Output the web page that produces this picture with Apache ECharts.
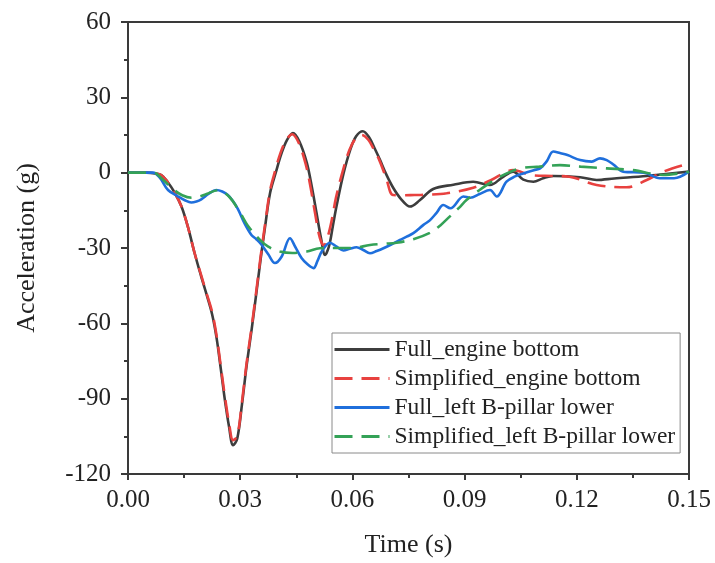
<!DOCTYPE html>
<html>
<head>
<meta charset="utf-8">
<script src="https://cdn.jsdelivr.net/npm/echarts@6/dist/echarts.min.js"></script>
<style>
  html, body { margin: 0; padding: 0; background: #fff; }
  #main { width: 715px; height: 563px; }
</style>
</head>
<body>
<div id="main"></div>
<script>
// time (s) and acceleration (g)
let fullEngineT = [0, 0.005, 0.0072, 0.0089, 0.0105, 0.0125, 0.0143, 0.016, 0.0178, 0.0195, 0.021, 0.0225, 0.0237, 0.0248, 0.0259, 0.027, 0.0281, 0.0292, 0.0305, 0.0317, 0.0331, 0.0344, 0.0355, 0.0367, 0.038, 0.0395, 0.041, 0.0425, 0.0441, 0.0458, 0.0478, 0.0492, 0.0504, 0.0516, 0.0527, 0.0538, 0.0548, 0.0558, 0.0576, 0.0594, 0.061, 0.0628, 0.0645, 0.066, 0.0674, 0.069, 0.0709, 0.073, 0.0754, 0.078, 0.0816, 0.087, 0.0923, 0.0968, 0.1, 0.103, 0.1057, 0.1084, 0.111, 0.1137, 0.1209, 0.1253, 0.13, 0.1387, 0.145, 0.15];
let fullEngineA = [0, 0, -0.3, -1, -3.5, -8, -13.5, -21.5, -32, -41, -48.5, -56.5, -66, -78, -90.5, -101, -108.5, -106, -92, -77, -62, -47, -34, -21, -8, 0, 7.5, 13, 15.8, 12.5, 4, -6, -16, -26, -32.8, -29, -21, -13, -0.5, 9, 14.5, 16.5, 14, 9.5, 5, -0.5, -6, -10.5, -13.5, -11, -6.5, -4.8, -3.6, -4.9, -2, 0.4, -2.8, -3.6, -2.2, -1.3, -1.8, -2.9, -2.3, -1.3, -0.3, 0.4];

let simpEngineT = [0, 0.005, 0.0072, 0.0089, 0.0105, 0.0125, 0.0143, 0.016, 0.0178, 0.0195, 0.021, 0.0225, 0.0237, 0.0248, 0.0259, 0.027, 0.0281, 0.0292, 0.0305, 0.0317, 0.0331, 0.0344, 0.0355, 0.0367, 0.038, 0.0393, 0.0408, 0.0423, 0.0439, 0.0456, 0.0475, 0.0489, 0.05, 0.0513, 0.0524, 0.0535, 0.0546, 0.0556, 0.0574, 0.0592, 0.0608, 0.0625, 0.0643, 0.0658, 0.0672, 0.069, 0.0709, 0.0735, 0.0766, 0.08, 0.0852, 0.0923, 0.097, 0.103, 0.108, 0.1135, 0.118, 0.1253, 0.1333, 0.1387, 0.1431, 0.15];
let simpEngineA = [0, 0, -0.3, -1, -3.5, -8, -13.5, -21.5, -32, -40.5, -48, -55.5, -65, -77, -89, -99.5, -106.5, -105, -91, -76, -61, -46, -33, -20, -7, 0.5, 8, 13, 15.3, 12, 3.5, -6.5, -16, -26, -29, -25, -18, -10, 0.5, 9, 13.5, 15, 13, 9, 5, -2, -8.9, -9, -8.9, -8.8, -8.2, -6, -3, 1, -1, -1.3, -1.6, -4.9, -5.8, -2.9, 0.4, 3.7];

let fullPillarT = [0, 0.0067, 0.0085, 0.0107, 0.0134, 0.0152, 0.0169, 0.0183, 0.0196, 0.0215, 0.0236, 0.0252, 0.0267, 0.028, 0.0294, 0.0312, 0.033, 0.0343, 0.0356, 0.0375, 0.0393, 0.0411, 0.0433, 0.0447, 0.0464, 0.048, 0.0496, 0.0507, 0.0518, 0.054, 0.0558, 0.0576, 0.0593, 0.0611, 0.0629, 0.0647, 0.0665, 0.0683, 0.0705, 0.0727, 0.0745, 0.0763, 0.079, 0.0807, 0.0825, 0.0843, 0.0862, 0.0897, 0.0915, 0.094, 0.0968, 0.0986, 0.1012, 0.1035, 0.1057, 0.1085, 0.1102, 0.1119, 0.1137, 0.1155, 0.1175, 0.1209, 0.124, 0.1262, 0.128, 0.13, 0.1324, 0.138, 0.1422, 0.146, 0.15];
let fullPillarA = [0, 0, -2, -6.9, -9.5, -11, -11.9, -11.5, -10.6, -8.5, -6.9, -7.5, -8.9, -11.2, -14.5, -20.3, -24.8, -26.5, -28.5, -32.5, -36, -33.4, -26.1, -29.5, -34, -36.5, -38, -35, -31.4, -27.9, -29.5, -31, -30.3, -29.7, -30.8, -32.1, -31.2, -30.1, -28.5, -26.8, -25.5, -24.1, -20.8, -19, -16, -12.9, -14.2, -9.5, -10, -8.5, -6.9, -9.5, -3.6, -1.5, -0.3, 1, 1.7, 4.4, 8.4, 7.8, 7, 5, 4.4, 5.7, 5, 3, 0.4, 0, -2.2, -2.2, 0.4];

let simpPillarT = [0, 0.0067, 0.0095, 0.012, 0.0145, 0.017, 0.019, 0.021, 0.024, 0.027, 0.03, 0.032, 0.0353, 0.0375, 0.0406, 0.044, 0.0478, 0.0513, 0.0551, 0.06, 0.0647, 0.0685, 0.0718, 0.0763, 0.0807, 0.0835, 0.086, 0.0885, 0.0905, 0.094, 0.0995, 0.1048, 0.11, 0.1155, 0.121, 0.128, 0.135, 0.1431, 0.15];
let simpPillarA = [0, 0, -3, -6.5, -9, -10, -9.5, -8.5, -7, -9.5, -16, -21, -26.8, -29.5, -31.4, -32, -31.4, -30.1, -30, -30, -28.8, -28.3, -27.9, -26.5, -24, -21, -17.5, -14, -10.9, -6.9, -1.6, 1.7, 2.4, 3, 2.4, 1.7, 1, -0.9, 0.4];

let seriesNames = ['Full_engine bottom', 'Simplified_engine bottom', 'Full_left B-pillar lower', 'Simplified_left B-pillar lower'];
let xTicks = { min: 0, max: 0.15, interval: 0.03 };
let yTicks = { min: -120, max: 60, interval: 30 };

let dom = document.getElementById('main');
let myChart = echarts.init(dom);
let font = 'Liberation Serif';

function pairs(t, a) {
    return t.map(function (v, i) { return [v, a[i]]; });
}

function makeSeries(name, t, a, color, dashed) {
    return {
        name: name,
        type: 'line',
        data: pairs(t, a),
        smooth: 0.35,
        symbol: 'none',
        lineStyle: {
            color: color,
            width: 2.6,
            type: dashed ? [18, 9] : 'solid'
        },
        itemStyle: { color: color }
    };
}

let option = {
    backgroundColor: '#fff',
    animation: false,
    grid: {
        left: 128,
        top: 22,
        right: 26,
        bottom: 89,
        show: true,
        borderColor: '#3a3a3a',
        borderWidth: 2
    },
    legend: {
        data: seriesNames,
        orient: 'vertical',
        left: 332,
        top: 333,
        padding: [4, 5, 4, 1],
        itemGap: 4,
        itemWidth: 55,
        itemHeight: 14,
        borderColor: '#8a8a8a',
        borderWidth: 1,
        backgroundColor: '#fff',
        itemStyle: { opacity: 0 },
        lineStyle: { width: 3 },
        textStyle: {
            fontFamily: font,
            fontSize: 23.5,
            lineHeight: 25,
            color: '#222'
        }
    },
    xAxis: {
        type: 'value',
        min: xTicks.min,
        max: xTicks.max,
        interval: xTicks.interval,
        name: 'Time (s)',
        nameLocation: 'middle',
        nameGap: 58,
        nameTextStyle: { fontFamily: font, fontSize: 26, color: '#222' },
        axisLine: { show: true, onZero: false, lineStyle: { color: '#3a3a3a', width: 2 } },
        axisTick: { show: true, inside: false, length: 6, lineStyle: { color: '#3a3a3a', width: 2 } },
        minorTick: { show: true, splitNumber: 2, length: 4, lineStyle: { color: '#3a3a3a', width: 2 } },
        splitLine: { show: false },
        axisLabel: {
            margin: 14,
            fontFamily: font,
            fontSize: 25,
            color: '#222',
            formatter: function (v) { return v.toFixed(2); }
        }
    },
    yAxis: {
        type: 'value',
        min: yTicks.min,
        max: yTicks.max,
        interval: yTicks.interval,
        name: 'Acceleration (g)',
        nameLocation: 'middle',
        nameGap: 88,
        nameTextStyle: { fontFamily: font, fontSize: 26, color: '#222' },
        axisLine: { show: true, onZero: false, lineStyle: { color: '#3a3a3a', width: 2 } },
        axisTick: { show: true, inside: false, length: 7, lineStyle: { color: '#3a3a3a', width: 2 } },
        minorTick: { show: true, splitNumber: 2, length: 4, lineStyle: { color: '#3a3a3a', width: 2 } },
        splitLine: { show: false },
        axisLabel: {
            margin: 17,
            fontFamily: font,
            fontSize: 25,
            color: '#222'
        }
    },
    series: [
        makeSeries(seriesNames[0], fullEngineT, fullEngineA, '#3d3d3d', false),
        makeSeries(seriesNames[1], simpEngineT, simpEngineA, '#e8413f', true),
        makeSeries(seriesNames[2], fullPillarT, fullPillarA, '#1f6fdc', false),
        makeSeries(seriesNames[3], simpPillarT, simpPillarA, '#34a257', true)
    ]
};

if (option && typeof option === "object") {
    myChart.setOption(option, true);
    window.addEventListener("resize", function () {
        myChart.resize();
    });
}
</script>
</body>
</html>
